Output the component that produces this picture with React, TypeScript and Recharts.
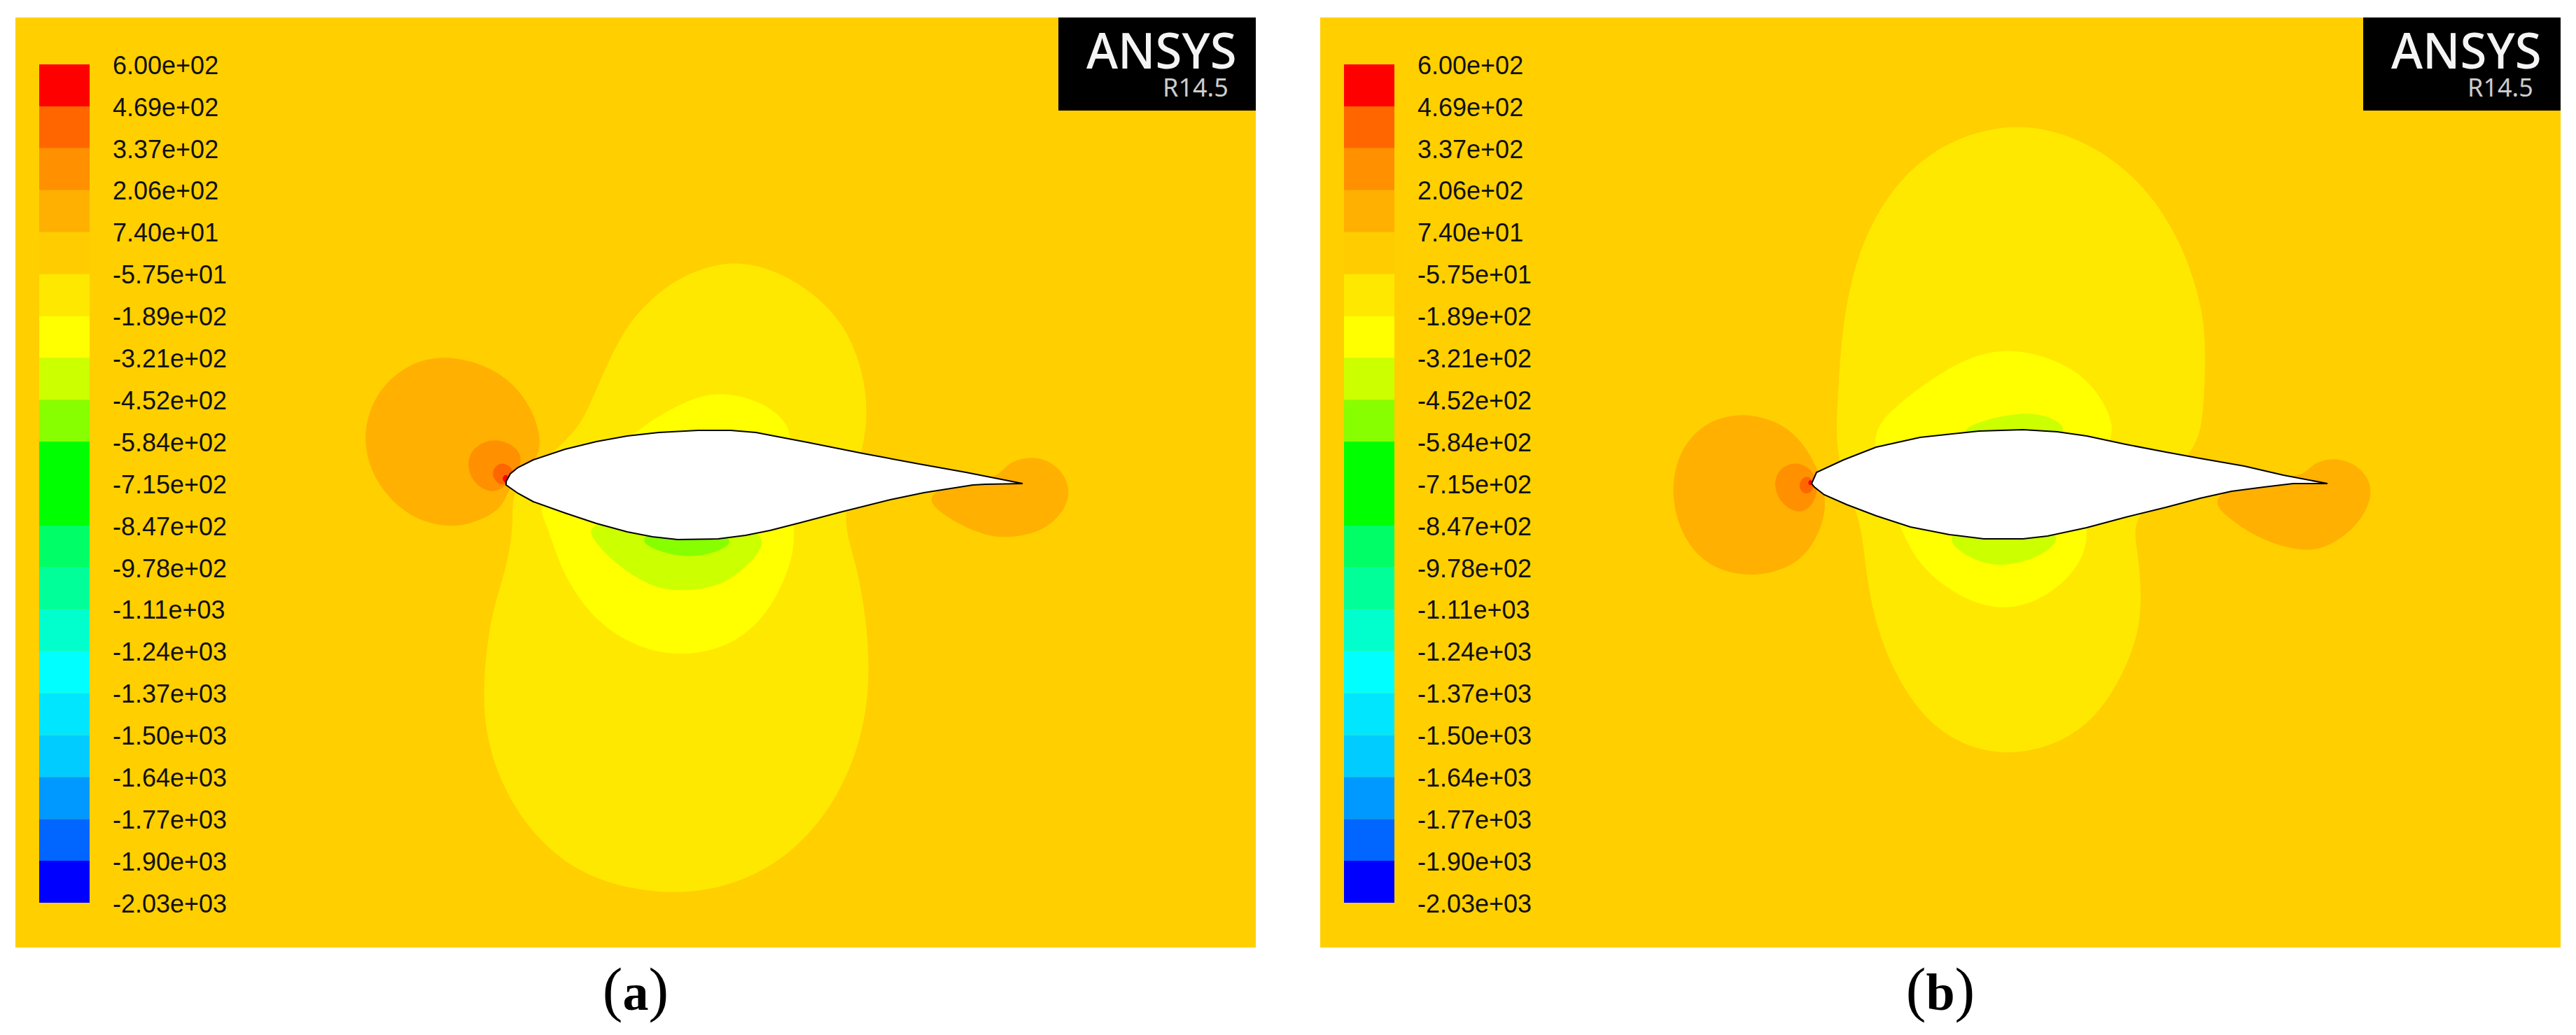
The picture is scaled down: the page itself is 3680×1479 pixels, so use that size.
import React from 'react';
import { BarChart, Bar, ScatterChart, Scatter, XAxis, YAxis } from 'recharts';

type Pt = [number, number];

// colour scale, top to bottom
const scaleLabels = [
  '6.00e+02', '4.69e+02', '3.37e+02', '2.06e+02', '7.40e+01', '-5.75e+01', '-1.89e+02',
  '-3.21e+02', '-4.52e+02', '-5.84e+02', '-7.15e+02', '-8.47e+02', '-9.78e+02', '-1.11e+03',
  '-1.24e+03', '-1.37e+03', '-1.50e+03', '-1.64e+03', '-1.77e+03', '-1.90e+03', '-2.03e+03',
];
const scaleColors = [
  '#ff0000', '#ff6600', '#ff9000', '#ffb000', '#ffcc00', '#ffe800', '#ffff00', '#ccff00',
  '#88ff00', '#00ff00', '#00ff00', '#00ff66', '#00ff99', '#00ffcc', '#00ffff', '#00e6ff',
  '#00ccff', '#0099ff', '#0066ff', '#0000ff',
];

// panel (a) contours in image pixels
const foilA: Pt[] = [
  [723, 688], [729, 677], [740, 668], [762, 657], [807, 642], [852, 631], [896, 623], [941, 618],
  [997, 615], [1044, 615], [1080, 618], [1111, 624], [1153, 632], [1233, 648], [1313, 663], [1380, 675],
  [1461, 691], [1408, 692], [1390, 693], [1320, 704], [1272, 714], [1200, 732], [1143, 747], [1100, 758],
  [1065, 765], [1026, 770], [968, 771], [932, 767], [896, 760], [852, 748], [807, 733], [762, 717],
  [740, 705], [723, 693],
];
const a74: Pt[] = [
  [642, 505], [718, 530], [760, 580], [775, 633], [764, 662], [727, 693], [720, 725], [682, 746],
  [642, 755], [584, 740], [537, 693], [516, 630], [533, 565], [579, 520],
];
const a206: Pt[] = [
  [707, 625], [738, 638], [749, 660], [724, 695], [702, 706], [676, 691], [666, 663], [676, 638],
];
const a337: Pt[] = [[720, 660], [738, 673], [724, 694], [710, 692], [702, 677], [708, 665]];
const a469: Pt[] = [[722, 676], [729, 684], [724, 692], [716, 685]];
const aM57: Pt[] = [
  [1053, 370], [1127, 392], [1209, 456], [1242, 560], [1235, 645], [1200, 735], [1220, 793], [1238, 880],
  [1244, 986], [1224, 1082], [1179, 1170], [1111, 1236], [1034, 1269], [957, 1279], [855, 1262], [780, 1215],
  [724, 1140], [695, 1060], [689, 986], [700, 880], [722, 820], [736, 740], [727, 695], [820, 625],
  [843, 578], [863, 530], [894, 465], [939, 418], [986, 388],
];
const aM189: Pt[] = [
  [1030, 557], [1097, 577], [1126, 607], [1130, 627], [1135, 760], [1133, 802], [1097, 880], [1044, 924],
  [972, 939], [906, 924], [853, 889], [817, 841], [797, 800], [778, 740], [763, 715], [914, 615],
  [930, 601], [977, 574],
];
const aM321: Pt[] = [
  [832, 745], [850, 775], [877, 804], [927, 838], [972, 846], [1029, 838], [1062, 814], [1086, 789],
  [1097, 757], [965, 735],
];
const aM452: Pt[] = [
  [908, 767], [930, 785], [981, 798], [1023, 790], [1059, 771], [980, 745],
];
const aTail: Pt[] = [
  [1426, 684], [1438, 661], [1477, 650], [1512, 665], [1530, 697], [1522, 729], [1491, 760], [1433, 771],
  [1392, 760], [1351, 739], [1315, 708], [1380, 685],
];

// panel (b) contours
const foilB: Pt[] = [
  [2588, 691], [2595, 675], [2634, 657], [2680, 639], [2743, 625], [2827, 616], [2890, 614], [2939, 617],
  [2981, 623], [3037, 635], [3094, 646], [3143, 655], [3206, 666], [3262, 679], [3325, 691], [3276, 691],
  [3234, 696], [3188, 702], [3143, 712], [3094, 725], [3037, 739], [2981, 754], [2925, 766], [2890, 770],
  [2834, 770], [2785, 764], [2729, 753], [2680, 737], [2638, 721], [2606, 707], [2592, 696],
];
const b74: Pt[] = [
  [2498, 588], [2560, 610], [2597, 665], [2614, 727], [2586, 790], [2548, 815], [2497, 825], [2439, 810],
  [2402, 766], [2386, 705], [2398, 643], [2438, 600],
];
const b206: Pt[] = [
  [2567, 658], [2594, 674], [2598, 707], [2583, 729], [2567, 733], [2544, 720], [2533, 693], [2541, 669],
];
const b337: Pt[] = [[2580, 677], [2592, 688], [2590, 702], [2577, 708], [2567, 693]];
const b469: Pt[] = [[2586, 684], [2590, 690], [2586, 695], [2582, 690]];
const bM57: Pt[] = [
  [2891, 172], [2988, 204], [3066, 265], [3117, 348], [3143, 427], [3152, 486], [3148, 600], [3136, 646],
  [3044, 739], [3053, 779], [3062, 868], [3046, 940], [2997, 1027], [2933, 1067], [2869, 1079], [2805, 1067],
  [2741, 1023], [2685, 922], [2664, 814], [2660, 743], [2620, 656], [2626, 565], [2631, 466], [2654, 355],
  [2705, 262], [2782, 198],
];
const bM189: Pt[] = [
  [2875, 495], [2952, 519], [2995, 555], [3020, 605], [3015, 628], [2978, 754], [2983, 771], [2969, 813],
  [2920, 857], [2859, 874], [2797, 853], [2741, 809], [2713, 752], [2666, 628], [2700, 587], [2746, 551],
  [2807, 511],
];
const bM321Top: Pt[] = [
  [2792, 622], [2822, 603], [2886, 588], [2934, 595], [2962, 621], [2880, 640],
];
const bM321Low: Pt[] = [
  [2776, 762], [2797, 788], [2832, 805], [2862, 809], [2906, 799], [2934, 781], [2945, 760], [2860, 730],
];
const bTail: Pt[] = [
  [3291, 682], [3302, 662], [3339, 652], [3376, 669], [3393, 704], [3369, 752], [3326, 782], [3290, 789],
  [3232, 773], [3183, 741], [3151, 709], [3240, 680],
];

const panelA = {
  left: 22, right: 1794,
  caption: 'a',
  contours: [
    { points: aM57, color: '#ffe800' }, { points: aM189, color: '#ffff00' }, { points: aM321, color: '#ccff00' },
    { points: aM452, color: '#88ff00' }, { points: a74, color: '#ffb000' }, { points: a206, color: '#ff9000' },
    { points: a337, color: '#ff6600' }, { points: a469, color: '#ff0000' }, { points: aTail, color: '#ffb000' },
  ],
  foil: foilA,
};
const panelB = {
  left: 1886, right: 3658,
  caption: 'b',
  contours: [
    { points: bM57, color: '#ffe800' }, { points: bM189, color: '#ffff00' }, { points: bM321Top, color: '#ccff00' },
    { points: bM321Low, color: '#ccff00' }, { points: b74, color: '#ffb000' }, { points: b206, color: '#ff9000' },
    { points: b337, color: '#ff6600' }, { points: b469, color: '#ff0000' }, { points: bTail, color: '#ffb000' },
  ],
  foil: foilB,
};

const TOP = 25;
const BOTTOM = 1354;

const toData = (pts: Pt[]) => pts.map(([x, y]) => ({ x, y }));
const NoDot = () => <g />;

// stacked from the bottom, so the scale goes in reversed
const bandsBottomUp = [...scaleColors].reverse();
const scaleRow = [Object.fromEntries([['name', 'scale'], ...bandsBottomUp.map((_, i) => [`b${i}`, 1])])];
const scaleTicks = scaleLabels.map((_, i) => i);

function ColorScale() {
  return (
    <div style={{ position: 'absolute', left: 34, top: 37 }}>
      <BarChart
        width={292}
        height={1258}
        data={scaleRow}
        barCategoryGap={0}
        margin={{ top: 30, bottom: 30, left: 0, right: 0 }}
      >
        <XAxis dataKey="name" hide />
        <YAxis
          type="number"
          orientation="right"
          domain={[0, 20]}
          ticks={scaleTicks}
          interval={0}
          width={220}
          axisLine={false}
          tickLine={false}
          tickSize={0}
          tickMargin={33}
          tick={{ fontSize: 36, fontFamily: 'Liberation Sans', fill: '#111', dy: 1 }}
          tickFormatter={(i: number) => scaleLabels[20 - i]}
        />
        {bandsBottomUp.map((c, i) => (
          <Bar key={i} dataKey={`b${i}`} stackId="s" fill={c} isAnimationActive={false} />
        ))}
      </BarChart>
    </div>
  );
}

function Panel({ panel }: { panel: typeof panelA }) {
  const w = panel.right - panel.left;
  return (
    <>
      <div style={{ position: 'absolute', left: panel.left, top: TOP, width: w, height: BOTTOM - TOP, background: '#ffcf00' }}>
        <ScatterChart width={w} height={BOTTOM - TOP} margin={{ top: 0, right: 0, bottom: 0, left: 0 }}>
          <XAxis type="number" dataKey="x" domain={[panel.left, panel.right]} hide />
          <YAxis type="number" dataKey="y" domain={[TOP, BOTTOM]} reversed hide />
          {panel.contours.map((c, i) => (
            <Scatter
              key={i}
              data={toData(c.points)}
              shape={NoDot}
              line={{ fill: c.color, stroke: 'none' }}
              lineJointType="basisClosed"
              isAnimationActive={false}
            />
          ))}
          <Scatter
            data={toData(panel.foil)}
            shape={NoDot}
            line={{ fill: '#ffffff', stroke: '#000000', strokeWidth: 2 }}
            lineJointType="linearClosed"
            isAnimationActive={false}
          />
        </ScatterChart>
        <ColorScale />
        <div style={{ position: 'absolute', right: 0, top: 0, width: 282, height: 133, background: '#000' }}>
          <div
            style={{
              position: 'absolute',
              left: 40,
              top: 16,
              font: '500 71px "Noto Sans"',
              lineHeight: '60px',
              color: '#f4f4f4',
              transform: 'scaleX(0.97)',
              transformOrigin: 'left',
            }}
          >
            ANSYS
          </div>
          <div style={{ position: 'absolute', left: 149, top: 80, font: '36px "Noto Sans"', lineHeight: '40px', color: '#cccccc' }}>
            R14.5
          </div>
        </div>
      </div>
      <div
        style={{
          position: 'absolute',
          left: panel.left,
          width: w,
          top: 1364,
          textAlign: 'center',
          font: '86px "Liberation Serif"',
          lineHeight: '100px',
          color: '#000',
        }}
      >
        (<b style={{ fontSize: 74 }}>{panel.caption}</b>)
      </div>
    </>
  );
}

export default function App() {
  return (
    <div style={{ position: 'absolute', left: 0, top: 0, width: 3680, height: 1479, background: '#fff', overflow: 'hidden' }}>
      <Panel panel={panelA} />
      <Panel panel={panelB} />
    </div>
  );
}
